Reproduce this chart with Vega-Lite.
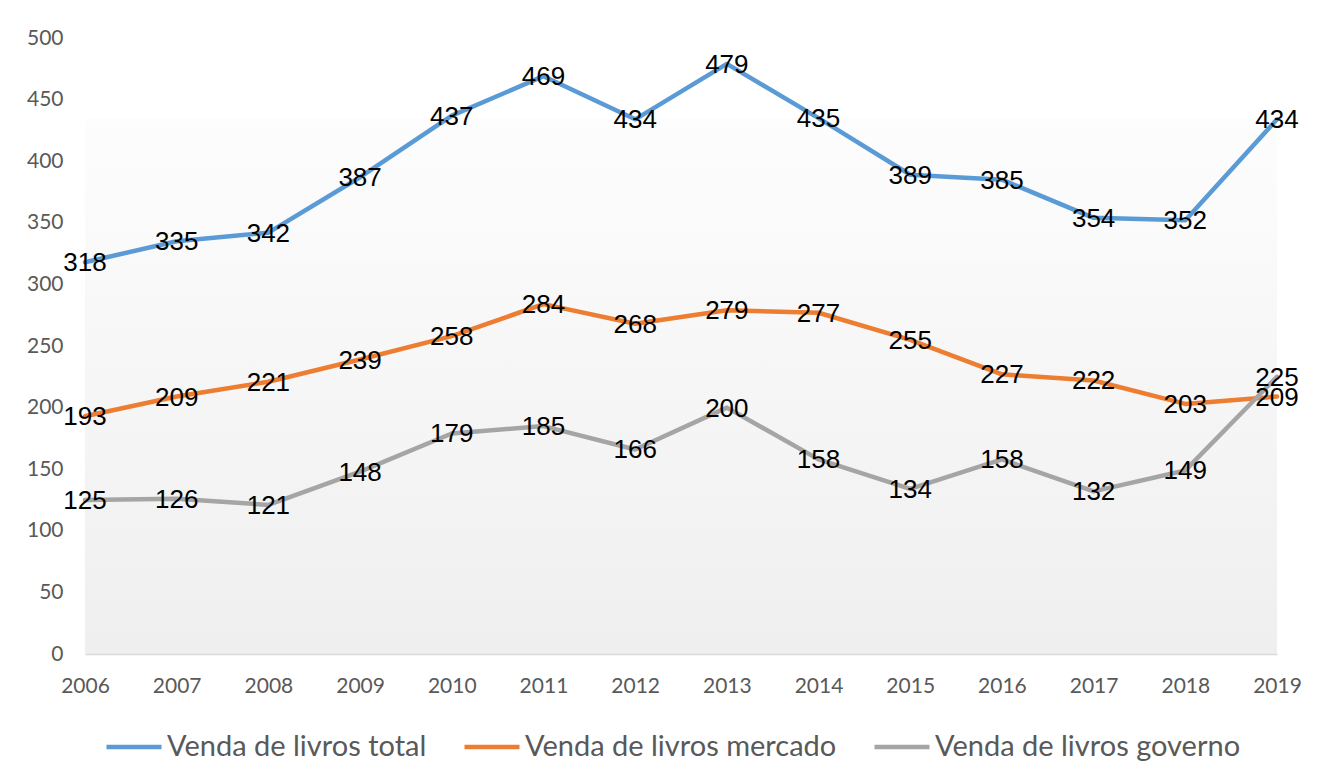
{
  "$schema": "https://vega.github.io/schema/vega-lite/v6.json",
  "width": 1192,
  "height": 616,
  "autosize": {"type": "none"},
  "padding": {"left": 85, "top": 38, "right": 43, "bottom": 128},
  "background": "#ffffff",
  "data": {
    "values": [
      {"year": "2006", "series": "Venda de livros total", "value": 318},
      {"year": "2007", "series": "Venda de livros total", "value": 335},
      {"year": "2008", "series": "Venda de livros total", "value": 342},
      {"year": "2009", "series": "Venda de livros total", "value": 387},
      {"year": "2010", "series": "Venda de livros total", "value": 437},
      {"year": "2011", "series": "Venda de livros total", "value": 469},
      {"year": "2012", "series": "Venda de livros total", "value": 434},
      {"year": "2013", "series": "Venda de livros total", "value": 479},
      {"year": "2014", "series": "Venda de livros total", "value": 435},
      {"year": "2015", "series": "Venda de livros total", "value": 389},
      {"year": "2016", "series": "Venda de livros total", "value": 385},
      {"year": "2017", "series": "Venda de livros total", "value": 354},
      {"year": "2018", "series": "Venda de livros total", "value": 352},
      {"year": "2019", "series": "Venda de livros total", "value": 434},
      {"year": "2006", "series": "Venda de livros mercado", "value": 193},
      {"year": "2007", "series": "Venda de livros mercado", "value": 209},
      {"year": "2008", "series": "Venda de livros mercado", "value": 221},
      {"year": "2009", "series": "Venda de livros mercado", "value": 239},
      {"year": "2010", "series": "Venda de livros mercado", "value": 258},
      {"year": "2011", "series": "Venda de livros mercado", "value": 284},
      {"year": "2012", "series": "Venda de livros mercado", "value": 268},
      {"year": "2013", "series": "Venda de livros mercado", "value": 279},
      {"year": "2014", "series": "Venda de livros mercado", "value": 277},
      {"year": "2015", "series": "Venda de livros mercado", "value": 255},
      {"year": "2016", "series": "Venda de livros mercado", "value": 227},
      {"year": "2017", "series": "Venda de livros mercado", "value": 222},
      {"year": "2018", "series": "Venda de livros mercado", "value": 203},
      {"year": "2019", "series": "Venda de livros mercado", "value": 209},
      {"year": "2006", "series": "Venda de livros governo", "value": 125},
      {"year": "2007", "series": "Venda de livros governo", "value": 126},
      {"year": "2008", "series": "Venda de livros governo", "value": 121},
      {"year": "2009", "series": "Venda de livros governo", "value": 148},
      {"year": "2010", "series": "Venda de livros governo", "value": 179},
      {"year": "2011", "series": "Venda de livros governo", "value": 185},
      {"year": "2012", "series": "Venda de livros governo", "value": 166},
      {"year": "2013", "series": "Venda de livros governo", "value": 200},
      {"year": "2014", "series": "Venda de livros governo", "value": 158},
      {"year": "2015", "series": "Venda de livros governo", "value": 134},
      {"year": "2016", "series": "Venda de livros governo", "value": 158},
      {"year": "2017", "series": "Venda de livros governo", "value": 132},
      {"year": "2018", "series": "Venda de livros governo", "value": 149},
      {"year": "2019", "series": "Venda de livros governo", "value": 225}
    ]
  },
  "encoding": {
    "x": {
      "field": "year",
      "type": "ordinal",
      "scale": {"type": "point", "padding": 0},
      "axis": {
        "title": null,
        "labelAngle": 0,
        "labelFont": "Lato",
        "labelFontSize": 21,
        "labelColor": "#595959",
        "labelPadding": 21,
        "ticks": false,
        "domain": true,
        "domainColor": "#d9d9d9",
        "domainWidth": 1.5,
        "grid": false
      }
    },
    "y": {
      "field": "value",
      "type": "quantitative",
      "scale": {"domain": [0, 500], "nice": false},
      "axis": {
        "title": null,
        "values": [0, 50, 100, 150, 200, 250, 300, 350, 400, 450, 500],
        "labelFont": "Lato",
        "labelFontSize": 21,
        "labelColor": "#595959",
        "labelPadding": 22,
        "ticks": false,
        "domain": false,
        "grid": false
      }
    }
  },
  "layer": [
    {
      "mark": {"type": "line", "strokeWidth": 4.5, "strokeCap": "round", "strokeJoin": "round"},
      "encoding": {
        "color": {
          "field": "series",
          "type": "nominal",
          "scale": {
            "domain": ["Venda de livros total", "Venda de livros mercado", "Venda de livros governo"],
            "range": ["#5b9bd5", "#ed7d31", "#a5a5a5"]
          },
          "legend": {
            "title": null,
            "orient": "bottom",
            "direction": "horizontal",
            "symbolType": "stroke",
            "symbolSize": 3025,
            "symbolStrokeWidth": 4.5,
            "labelFont": "Lato",
            "labelFontSize": 29,
            "labelColor": "#595959",
            "labelOffset": 3,
            "columnPadding": 28,
            "padding": 19,
            "offset": 2,
            "labelLimit": 500
          }
        }
      }
    },
    {
      "mark": {"type": "text", "font": "Liberation Sans", "fontSize": 26, "color": "#000000", "align": "center", "baseline": "middle", "dy": 1},
      "encoding": {
        "text": {"field": "value", "type": "quantitative"},
        "detail": {"field": "series", "type": "nominal"}
      }
    }
  ],
  "config": {
    "view": {
      "stroke": null,
      "fill": {
        "gradient": "linear",
        "x1": 0, "y1": 0, "x2": 0, "y2": 1,
        "stops": [
          {"offset": 0, "color": "#ffffff"},
          {"offset": 0.13, "color": "#ffffff"},
          {"offset": 0.131, "color": "#fdfdfd"},
          {"offset": 1, "color": "#efefef"}
        ]
      }
    }
  }
}
